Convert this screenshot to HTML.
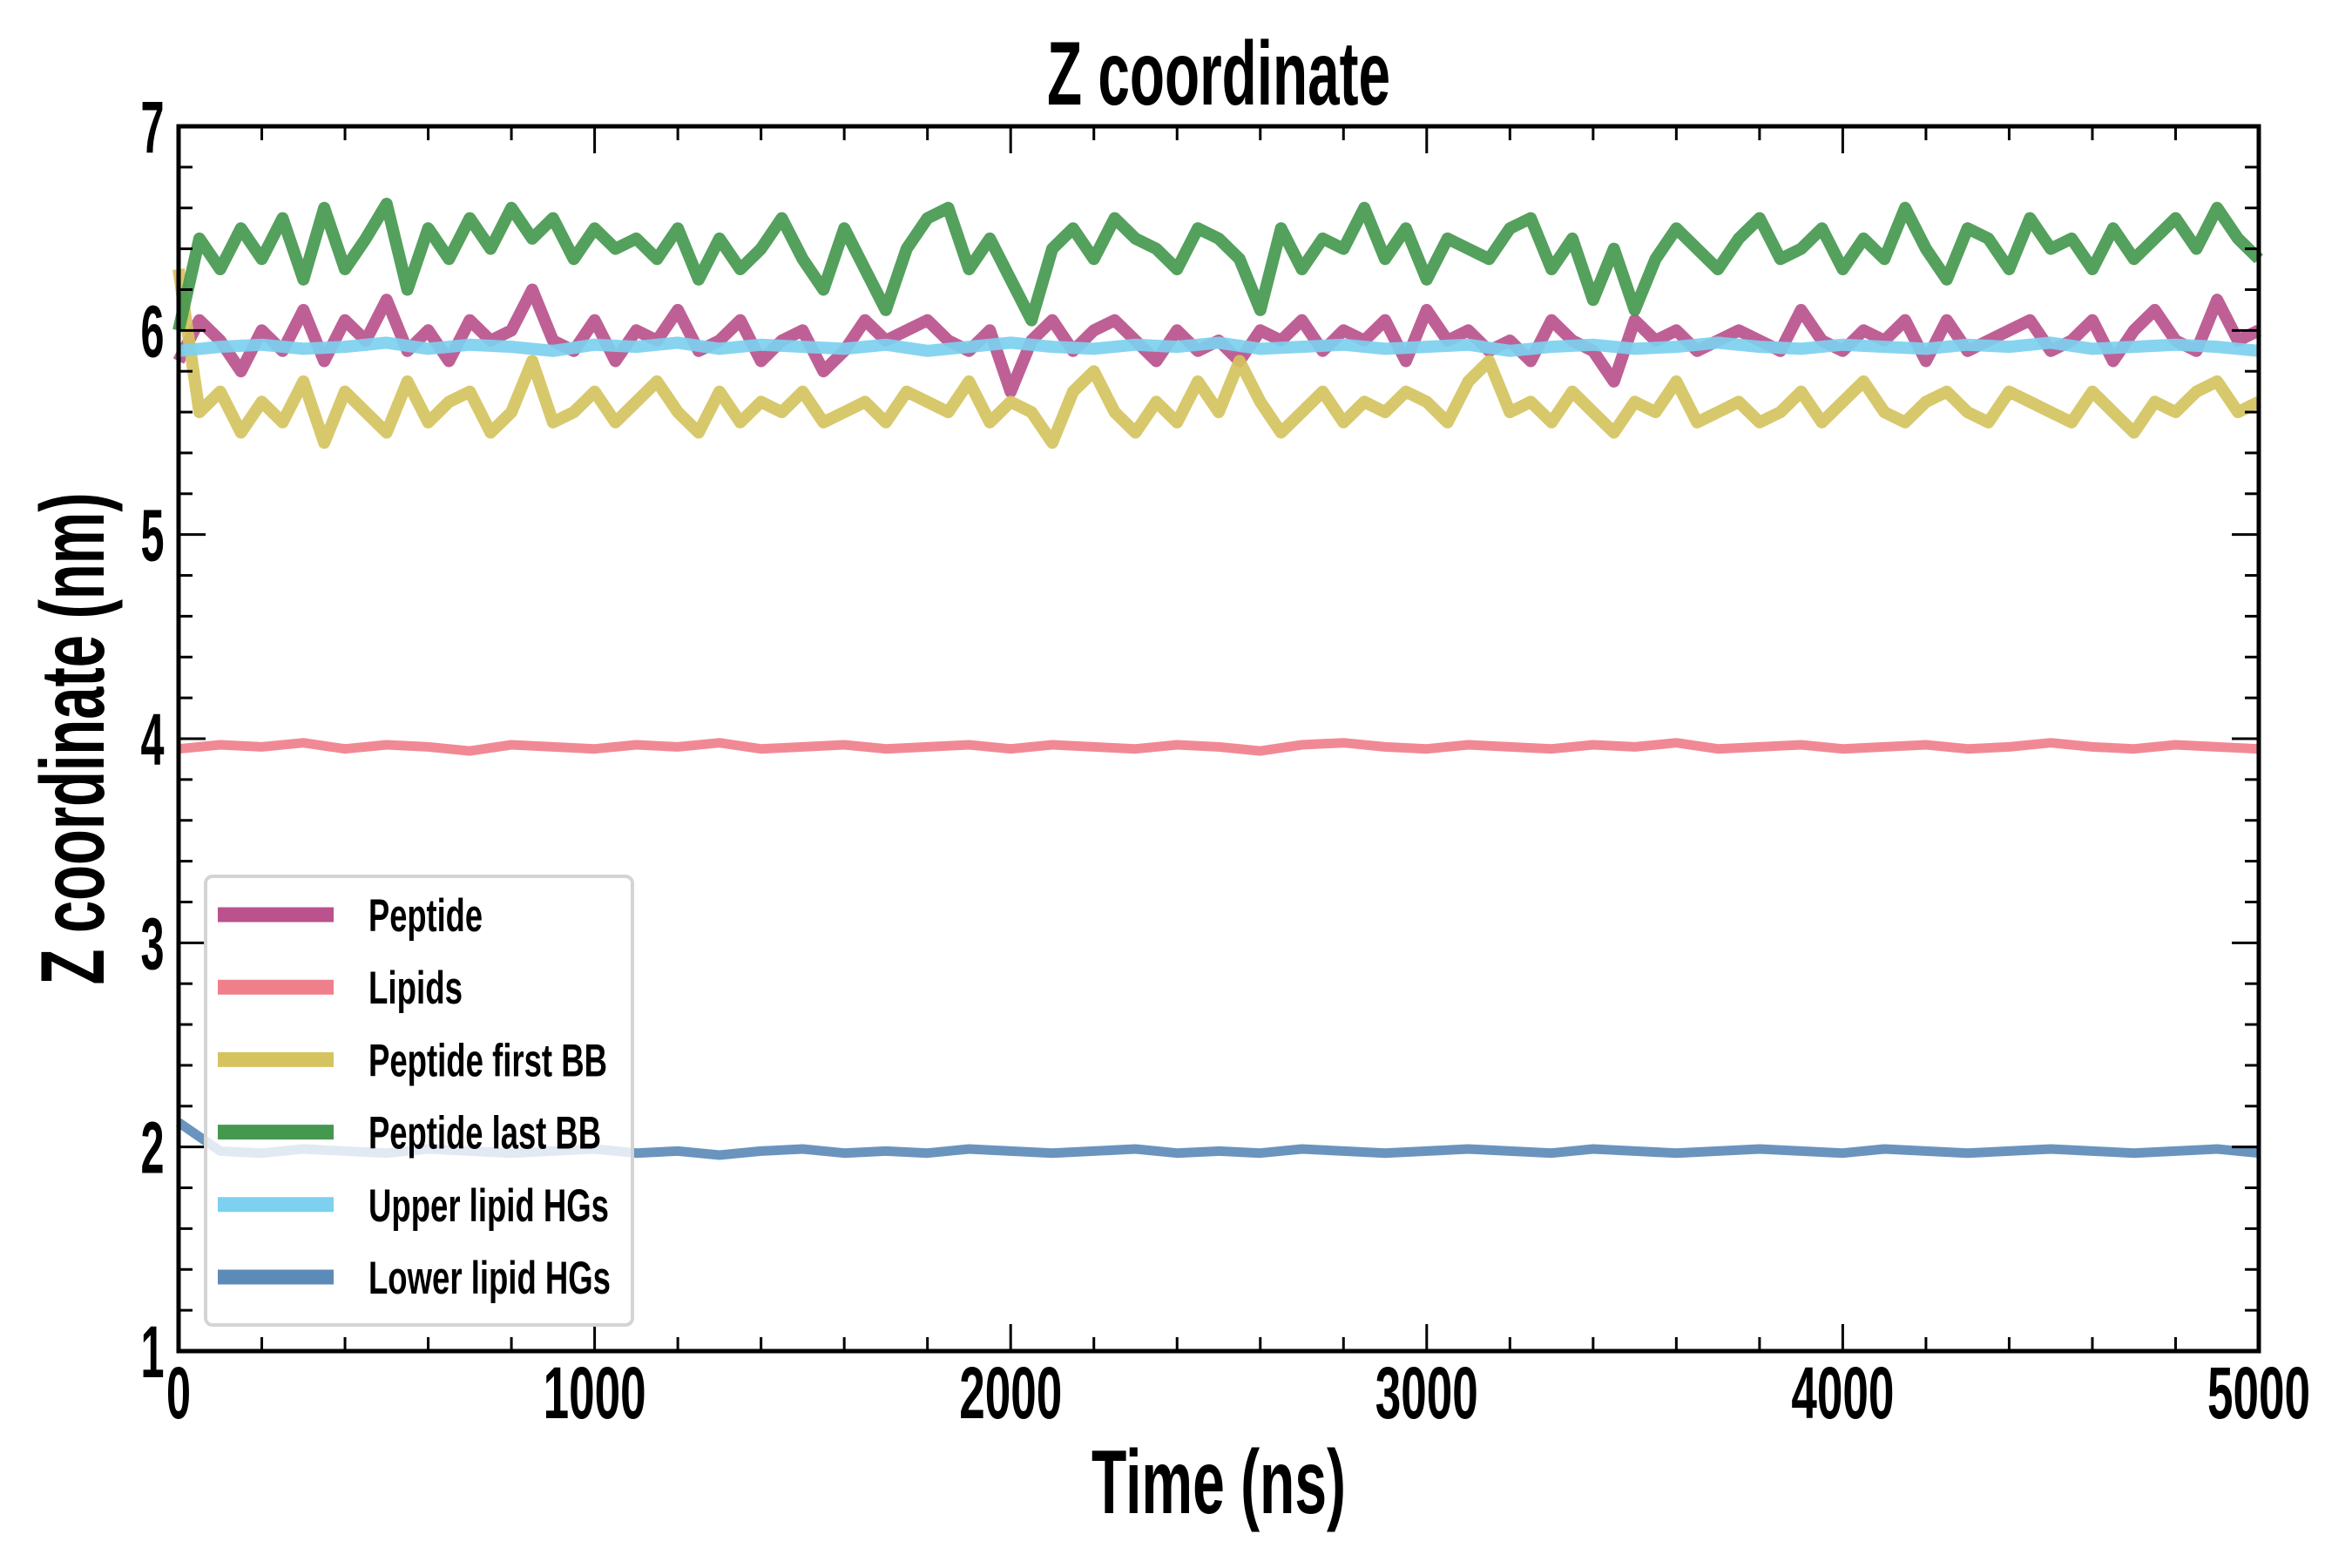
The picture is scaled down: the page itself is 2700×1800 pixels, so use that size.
<!DOCTYPE html>
<html><head><meta charset="utf-8"><style>
html,body{margin:0;padding:0;background:#fff;}
svg{display:block;}
text{font-family:"Liberation Sans Narrow","Liberation Sans",sans-serif;font-weight:bold;fill:#000;}
</style></head><body>
<svg id="chart" width="2700" height="1800" viewBox="0 0 2700 1800" xmlns="http://www.w3.org/2000/svg">
<rect width="2700" height="1800" fill="#fff"/>
<g id="series"></g>
<g id="axes"></g>
<text x="1399" y="120" font-size="104" text-anchor="middle" textLength="394" lengthAdjust="spacingAndGlyphs">Z coordinate</text>
<text x="1399" y="1737" font-size="104" text-anchor="middle" textLength="292" lengthAdjust="spacingAndGlyphs">Time (ns)</text>
<text transform="translate(119,848) rotate(-90)" x="0" y="0" font-size="104" text-anchor="middle" textLength="565" lengthAdjust="spacingAndGlyphs">Z coordinate (nm)</text>
<g id="legend"></g>
</svg>
<script>
const seriesNames = ["Peptide","Lipids","Peptide first BB","Peptide last BB","Upper lipid HGs","Lower lipid HGs"];
const seriesColors = ["#b9528d","#f07f8c","#d5c35f","#45984f","#7dd0ef","#5d8bb8"];
const xTicks = [0,1000,2000,3000,4000,5000];
const yTicks = [1,2,3,4,5,6,7];
const peptide = [5.85,6.05,5.95,5.80,6.00,5.90,6.10,5.85,6.05,5.95,6.15,5.90,6.00,5.85,6.05,5.95,6.00,6.20,5.95,5.90,6.05,5.85,6.00,5.95,6.10,5.90,5.95,6.05,5.85,5.95,6.00,5.80,5.90,6.05,5.95,6.00,6.05,5.95,5.90,6.00,5.70,5.95,6.05,5.90,6.00,6.05,5.95,5.85,6.00,5.90,5.95,5.85,6.00,5.95,6.05,5.90,6.00,5.95,6.05,5.85,6.10,5.95,6.00,5.90,5.95,5.85,6.05,5.95,5.90,5.75,6.05,5.95,6.00,5.90,5.95,6.00,5.95,5.90,6.10,5.95,5.90,6.00,5.95,6.05,5.85,6.05,5.90,5.95,6.00,6.05,5.90,5.95,6.05,5.85,6.00,6.10,5.95,5.90,6.15,5.95,6.00];
const lipids = [3.95,3.97,3.96,3.98,3.95,3.97,3.96,3.94,3.97,3.96,3.95,3.97,3.96,3.98,3.95,3.96,3.97,3.95,3.96,3.97,3.95,3.97,3.96,3.95,3.97,3.96,3.94,3.97,3.98,3.96,3.95,3.97,3.96,3.95,3.97,3.96,3.98,3.95,3.96,3.97,3.95,3.96,3.97,3.95,3.96,3.98,3.96,3.95,3.97,3.96,3.95];
const firstBB = [6.30,5.60,5.70,5.50,5.65,5.55,5.75,5.45,5.70,5.60,5.50,5.75,5.55,5.65,5.70,5.50,5.60,5.85,5.55,5.60,5.70,5.55,5.65,5.75,5.60,5.50,5.70,5.55,5.65,5.60,5.70,5.55,5.60,5.65,5.55,5.70,5.65,5.60,5.75,5.55,5.65,5.60,5.45,5.70,5.80,5.60,5.50,5.65,5.55,5.75,5.60,5.85,5.65,5.50,5.60,5.70,5.55,5.65,5.60,5.70,5.65,5.55,5.75,5.85,5.60,5.65,5.55,5.70,5.60,5.50,5.65,5.60,5.75,5.55,5.60,5.65,5.55,5.60,5.70,5.55,5.65,5.75,5.60,5.55,5.65,5.70,5.60,5.55,5.70,5.65,5.60,5.55,5.70,5.60,5.50,5.65,5.60,5.70,5.75,5.60,5.65];
const lastBB = [6.00,6.45,6.30,6.50,6.35,6.55,6.25,6.60,6.30,6.45,6.62,6.20,6.50,6.35,6.55,6.40,6.60,6.45,6.55,6.35,6.50,6.40,6.45,6.35,6.50,6.25,6.45,6.30,6.40,6.55,6.35,6.20,6.50,6.30,6.10,6.40,6.55,6.60,6.30,6.45,6.25,6.05,6.40,6.50,6.35,6.55,6.45,6.40,6.30,6.50,6.45,6.35,6.10,6.50,6.30,6.45,6.40,6.60,6.35,6.50,6.25,6.45,6.40,6.35,6.50,6.55,6.30,6.45,6.15,6.40,6.10,6.35,6.50,6.40,6.30,6.45,6.55,6.35,6.40,6.50,6.30,6.45,6.35,6.60,6.40,6.25,6.50,6.45,6.30,6.55,6.40,6.45,6.30,6.50,6.35,6.45,6.55,6.40,6.60,6.45,6.35];
const upperHG = [5.90,5.92,5.93,5.91,5.92,5.94,5.91,5.93,5.92,5.90,5.93,5.92,5.94,5.91,5.93,5.92,5.91,5.93,5.90,5.92,5.94,5.92,5.91,5.93,5.92,5.94,5.91,5.92,5.93,5.91,5.92,5.93,5.90,5.92,5.93,5.91,5.92,5.94,5.92,5.91,5.93,5.92,5.91,5.93,5.92,5.94,5.91,5.92,5.93,5.92,5.90];
const lowerHG = [2.12,1.98,1.97,1.99,1.98,1.97,1.99,1.98,1.97,1.98,1.99,1.97,1.98,1.96,1.98,1.99,1.97,1.98,1.97,1.99,1.98,1.97,1.98,1.99,1.97,1.98,1.97,1.99,1.98,1.97,1.98,1.99,1.98,1.97,1.99,1.98,1.97,1.98,1.99,1.98,1.97,1.99,1.98,1.97,1.98,1.99,1.98,1.97,1.98,1.99,1.97];
const allSeries = [peptide,lipids,firstBB,lastBB,upperHG,lowerHG];

const L=205,R=2593,T=145,B=1551,XMAX=5000,YMIN=1,YMAX=7;
function xs(v){return L+(v/XMAX)*(R-L);}
function ys(v){return B-(v-YMIN)/(YMAX-YMIN)*(B-T);}
const NS="http://www.w3.org/2000/svg";
const sg=document.getElementById('series');
const slugs=["peptide","lipids","peptide-first-bb","peptide-last-bb","upper-lipid-hgs","lower-lipid-hgs"];
const widths=[14,11,14,14,14,11];
allSeries.forEach((arr,si)=>{
  const n=arr.length;
  let d="";
  arr.forEach((v,i)=>{const t=i*XMAX/(n-1);d+=(i?"L":"M")+xs(t).toFixed(1)+","+ys(v).toFixed(1);});
  const p=document.createElementNS(NS,'path');
  p.setAttribute('d',d);p.setAttribute('fill','none');p.setAttribute('stroke',seriesColors[si]);
  p.setAttribute('stroke-width',widths[si]);p.setAttribute('stroke-linejoin','round');p.setAttribute('stroke-opacity','0.92');
  
  
  sg.appendChild(p);
});
const ax=document.getElementById('axes');
function ln(x1,y1,x2,y2,w,name){const l=document.createElementNS(NS,'line');l.setAttribute('x1',x1);l.setAttribute('y1',y1);l.setAttribute('x2',x2);l.setAttribute('y2',y2);l.setAttribute('stroke','#000');l.setAttribute('stroke-width',w);
  
  
  ax.appendChild(l);}
for(let v=0;v<=XMAX;v+=200){const x=xs(v);const len=(v%1000===0)?31:16;ln(x,B,x,B-len,3,'x-tick');ln(x,T,x,T+len,3,'x-tick-top');}
for(let k=0;k<=30;k++){const v=YMIN+k*0.2;const y=ys(v);const len=(k%5===0)?31:16;ln(L,y,L+len,y,3,'y-tick');ln(R,y,R-len,y,3,'y-tick-right');}
const fr=document.createElementNS(NS,'rect');fr.setAttribute('x',L);fr.setAttribute('y',T);fr.setAttribute('width',R-L);fr.setAttribute('height',B-T);fr.setAttribute('fill','none');fr.setAttribute('stroke','#000');fr.setAttribute('stroke-width','5');


ax.appendChild(fr);
xTicks.forEach(v=>{const t=document.createElementNS(NS,'text');t.setAttribute('x',xs(v));t.setAttribute('y',1628);t.setAttribute('font-size','84');t.setAttribute('text-anchor','middle');
  t.setAttribute('textLength', v>0 ? '118' : '28');t.setAttribute('lengthAdjust','spacingAndGlyphs');
  t.textContent=v;
  
  
  ax.appendChild(t);});
yTicks.forEach(v=>{const t=document.createElementNS(NS,'text');t.setAttribute('x',175);t.setAttribute('y',ys(v)+30);t.setAttribute('font-size','84');t.setAttribute('text-anchor','middle');
  t.setAttribute('textLength','27');t.setAttribute('lengthAdjust','spacingAndGlyphs');t.textContent=v;
  
  
  ax.appendChild(t);});
const lg=document.getElementById('legend');
const bx=document.createElementNS(NS,'rect');bx.setAttribute('x',236);bx.setAttribute('y',1006);bx.setAttribute('width',490);bx.setAttribute('height',515);bx.setAttribute('rx',8);bx.setAttribute('fill','rgba(255,255,255,0.8)');bx.setAttribute('stroke','#d4d4d4');bx.setAttribute('stroke-width','4');


lg.appendChild(bx);
const lgW=[131,108,274,267,276,278];
seriesNames.forEach((nm,i)=>{const y=1050+i*83.2;
  const l=document.createElementNS(NS,'line');l.setAttribute('x1',250);l.setAttribute('x2',383);l.setAttribute('y1',y);l.setAttribute('y2',y);l.setAttribute('stroke',seriesColors[i]);l.setAttribute('stroke-width','17');
  
  
  lg.appendChild(l);
  const t=document.createElementNS(NS,'text');t.setAttribute('x',423);t.setAttribute('y',y+19);t.setAttribute('font-size','53');t.setAttribute('textLength',lgW[i]);t.setAttribute('lengthAdjust','spacingAndGlyphs');t.textContent=nm;
  
  
  lg.appendChild(t);
});
</script>
</body></html>
